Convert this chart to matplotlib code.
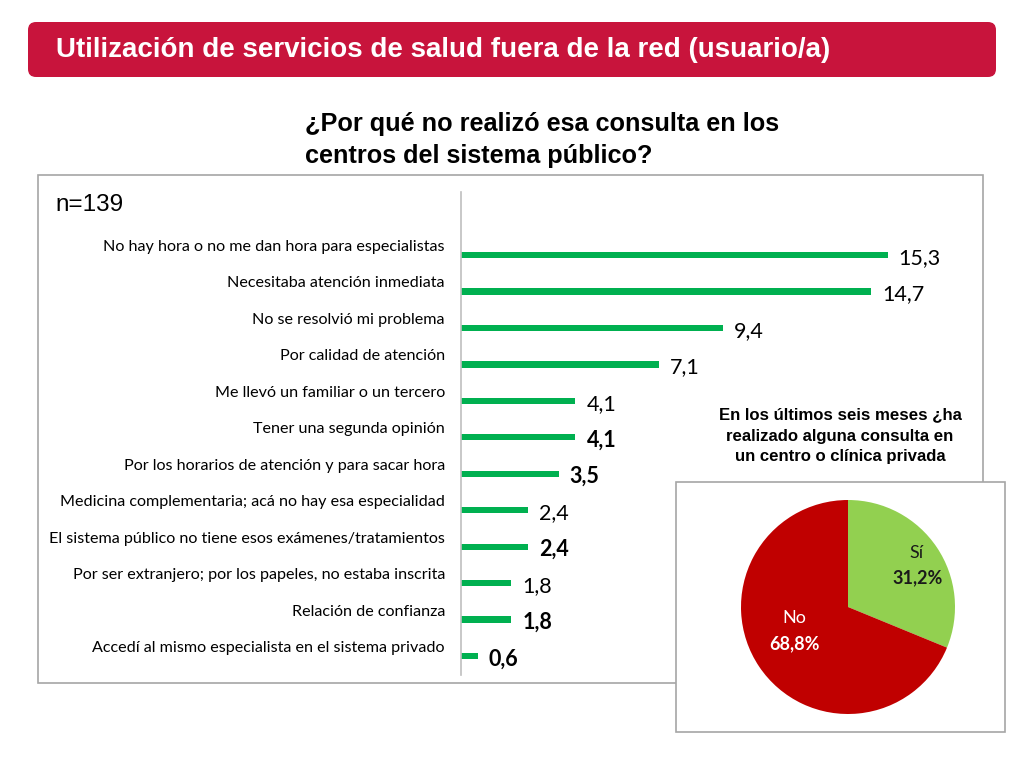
import matplotlib
matplotlib.use("Agg")
import matplotlib.pyplot as plt
from matplotlib.patches import FancyBboxPatch, Rectangle

categories = [
    "No hay hora o no me dan hora para especialistas",
    "Necesitaba atención inmediata",
    "No se resolvió mi problema",
    "Por calidad de atención",
    "Me llevó un familiar o un tercero",
    "Tener una segunda opinión",
    "Por los horarios de atención y para sacar hora",
    "Medicina complementaria; acá no hay esa especialidad",
    "El sistema público no tiene esos exámenes/tratamientos",
    "Por ser extranjero; por los papeles, no estaba inscrita",
    "Relación de confianza",
    "Accedí al mismo especialista en el sistema privado",
]
values = [15.3, 14.7, 9.4, 7.1, 4.1, 4.1, 3.5, 2.4, 2.4, 1.8, 1.8, 0.6]
value_labels = ["15,3", "14,7", "9,4", "7,1", "4,1", "4,1", "3,5", "2,4", "2,4", "1,8", "1,8", "0,6"]
bold_label = [False, False, False, False, False, True, True, False, True, False, True, True]

pie_labels = ["Sí", "No"]
pie_values = [31.2, 68.8]
pie_texts = ["31,2%", "68,8%"]

title = "Utilización de servicios de salud fuera de la red (usuario/a)"
subtitle = "¿Por qué no realizó esa consulta en los\ncentros del sistema público?"
n_text = "n=139"
pie_title = "En los últimos seis meses ¿ha\nrealizado alguna consulta en\nun centro o clínica privada"

W, H = 1024, 768
fig = plt.figure(figsize=(W / 100, H / 100), dpi=100)

# background axes in pixel coordinates
bg = fig.add_axes([0, 0, 1, 1])
bg.set_xlim(0, W)
bg.set_ylim(H, 0)
bg.axis("off")

red = "#C8143C"
bg.add_patch(FancyBboxPatch((28, 22), 968, 55, boxstyle="round,pad=0,rounding_size=8",
                            facecolor=red, edgecolor="none"))
bg.text(56, 50, title, color="white", fontsize=20, fontweight="bold",
        family="Liberation Sans", va="center", ha="left")
bg.text(305, 140, subtitle, color="black", fontsize=18.2, fontweight="bold",
        family="Liberation Sans", va="center", ha="left", linespacing=1.4)

bg.add_patch(Rectangle((38, 175), 945, 508, facecolor="white", edgecolor="#A6A6A6", lw=1.2))
bg.text(55, 205, n_text, fontsize=17.5, family="Liberation Sans", va="center", ha="left")

# bar chart axes: x 461 -> 921 px, y 192 -> 675 px
x0, x1 = 461, 921
y0, y1 = 192, 675
ax = fig.add_axes([x0 / W, 1 - y1 / H, (x1 - x0) / W, (y1 - y0) / H])
ax.patch.set_alpha(0)
ax.set_xlim(0, 16.5)
ax.set_ylim(11.52, -1.73)
ypos = list(range(len(categories)))
ax.barh(ypos, values, height=0.17, color="#00B050")
for s in ["top", "right", "bottom"]:
    ax.spines[s].set_visible(False)
ax.spines["left"].set_color("#BFBFBF")
ax.spines["left"].set_linewidth(1.2)
ax.set_xticks([])
ax.set_yticks([])
trans = ax.get_yaxis_transform()
for i, (c, v, lab, b) in enumerate(zip(categories, values, value_labels, bold_label)):
    ax.text(-0.035, i - 0.22, c, transform=trans, ha="right", va="center",
            fontsize=11.6, family="Lato")
    ax.text(v + 0.4, i + 0.08, lab, ha="left", va="center", fontsize=15.5,
            family="Lato", fontweight="bold" if b else "normal")

# pie box
bg.add_patch(Rectangle((676, 482), 329, 250, facecolor="white", edgecolor="#A6A6A6",
                       lw=1.2, zorder=5))
bg.text(840, 436, pie_title, fontsize=12.1, fontweight="bold", family="Liberation Sans",
        ha="center", va="center", linespacing=1.5, zorder=6)

cx, cy, r = 848, 607, 107
pax = fig.add_axes([(cx - r) / W, 1 - (cy + r) / H, 2 * r / W, 2 * r / H])
pax.set_zorder(10)
pax.pie(pie_values, colors=["#92D050", "#C00000"], startangle=90, counterclock=False,
        radius=1.0, wedgeprops=dict(edgecolor="none"))
pax.set_xlim(-1, 1)
pax.set_ylim(-1, 1)
pax.set_aspect("equal")
pax.axis("off")
pax.text(0.64, 0.50, pie_labels[0], ha="center", va="center", fontsize=13, family="Lato",
         color="#1a1a1a")
pax.text(0.65, 0.27, pie_texts[0], ha="center", va="center", fontsize=13, family="Lato",
         fontweight="bold", color="#1a1a1a")
pax.text(-0.50, -0.10, pie_labels[1], ha="center", va="center", fontsize=13, family="Lato",
         color="white")
pax.text(-0.50, -0.34, pie_texts[1], ha="center", va="center", fontsize=13, family="Lato",
         fontweight="bold", color="white")

fig.savefig("out.png", dpi=100)
